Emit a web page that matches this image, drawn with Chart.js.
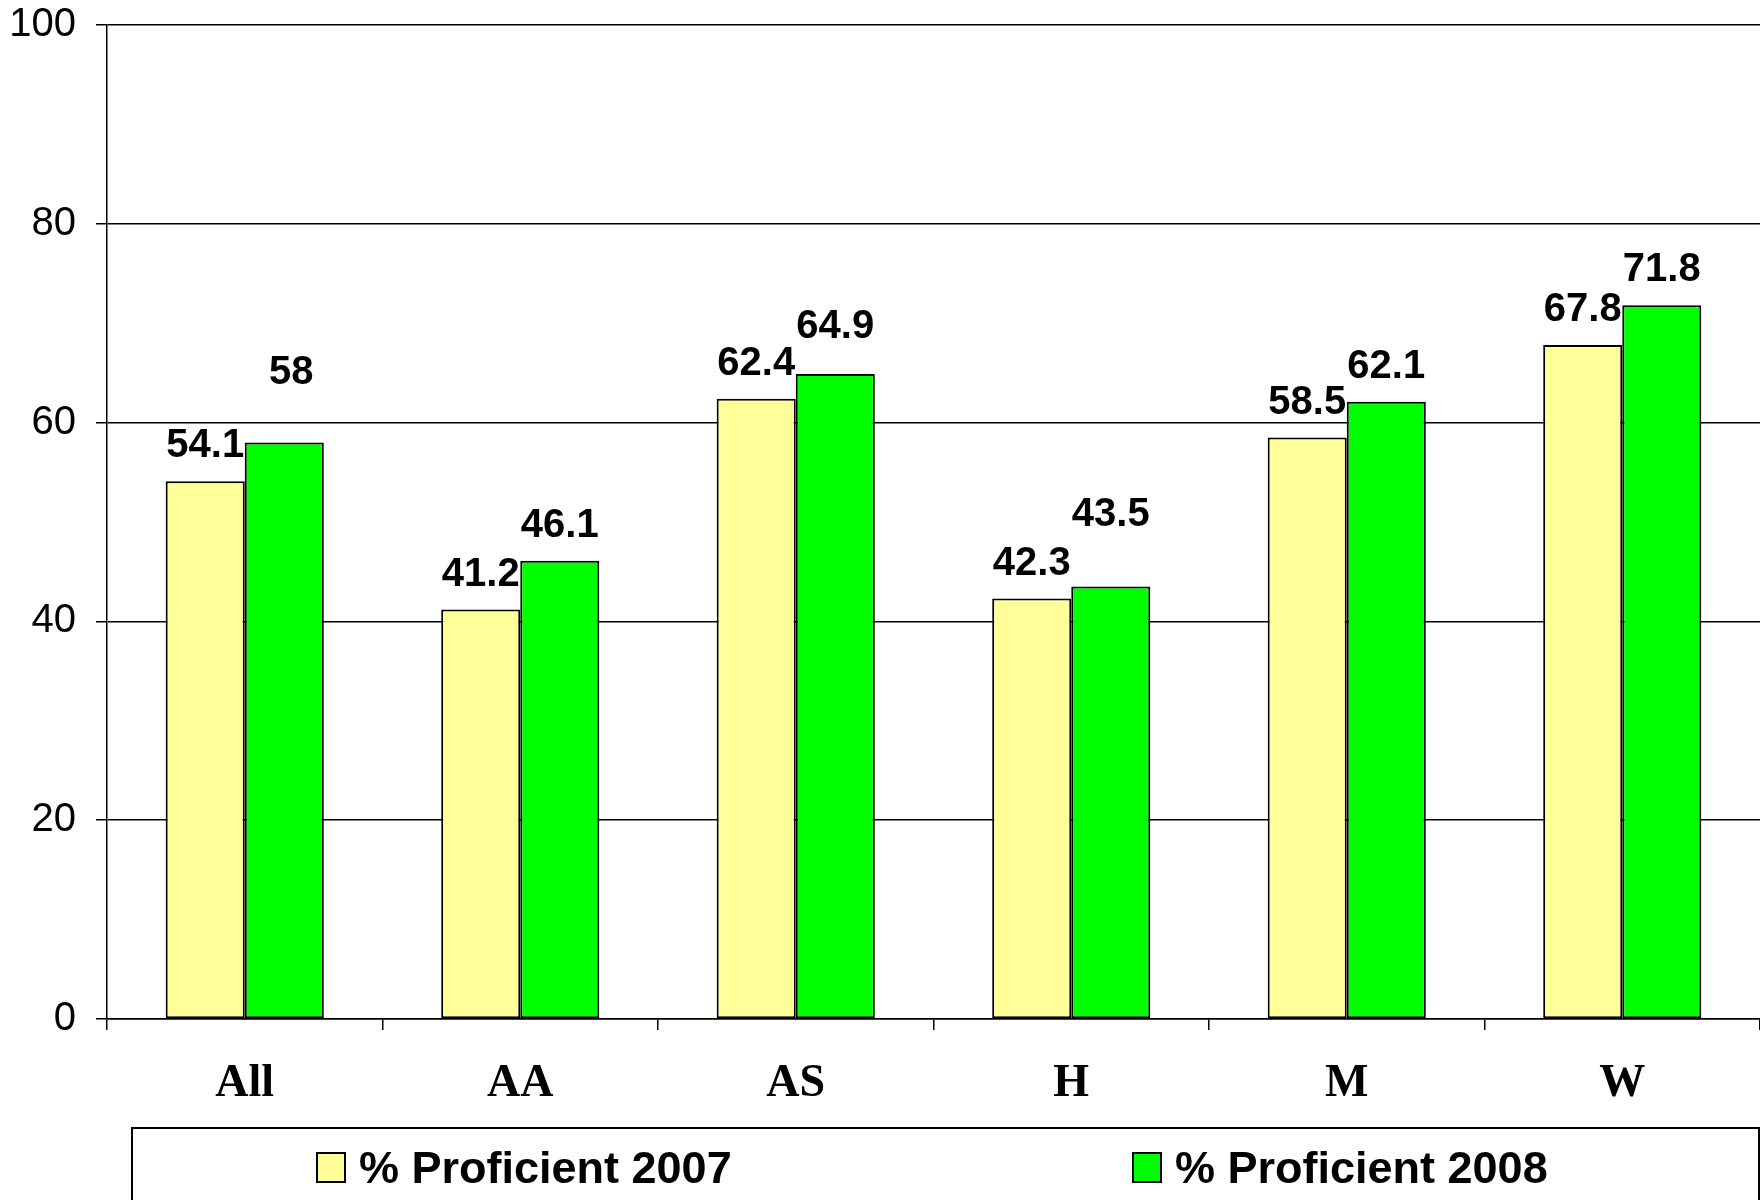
<!DOCTYPE html>
<html>
<head>
<meta charset="utf-8">
<script src="https://cdn.jsdelivr.net/npm/chart.js@4/dist/chart.umd.min.js"></script>
<style>
  html, body { margin: 0; padding: 0; background: #fff; }
  #wrap { width: 1760px; height: 1200px; }
</style>
</head>
<body>
<div id="wrap"><canvas id="chart" width="1760" height="1200"></canvas></div>
<script>
// data
const categories = ['All', 'AA', 'AS', 'H', 'M', 'W'];
const proficient2007 = [54.1, 41.2, 62.4, 42.3, 58.5, 67.8];
const proficient2008 = [58, 46.1, 64.9, 43.5, 62.1, 71.8];
const seriesNames = ['% Proficient 2007', '% Proficient 2008'];
const yTicks = [0, 20, 40, 60, 80, 100];

// extra lift (px) for a few labels that sit higher in the original
const labelLift = [
  [0, 0, 0, 0, 0, 0],
  [35, 0, 12, 37, 0, 0]
];
const labelShift = [
  [0, 0, 0, 0, 0, 0],
  [7, 0, 0, 0, 0, 0]
];

const colors = ['#FFFF99', '#00FF00'];

// value labels above the bars
const valueLabels = {
  id: 'valueLabels',
  afterDatasetsDraw(chart) {
    const ctx = chart.ctx;
    ctx.save();
    ctx.font = 'bold 40px "Liberation Sans", Arial, sans-serif';
    ctx.fillStyle = '#000';
    ctx.textAlign = 'center';
    ctx.textBaseline = 'middle';
    chart.data.datasets.forEach((ds, i) => {
      chart.getDatasetMeta(i).data.forEach((bar, j) => {
        ctx.fillText(String(ds.data[j]), bar.x + labelShift[i][j], bar.y - 35 - labelLift[i][j]);
      });
    });
    ctx.restore();
  }
};

// boxed legend like the original
const boxLegend = {
  id: 'boxLegend',
  afterDraw(chart) {
    const ctx = chart.ctx;
    ctx.save();
    ctx.strokeStyle = '#000';
    ctx.lineWidth = 2;
    ctx.strokeRect(132, 1128, 1627, 120);
    ctx.font = 'bold 45px "Liberation Sans", Arial, sans-serif';
    ctx.textBaseline = 'middle';
    ctx.textAlign = 'left';
    const starts = [317, 1133];
    chart.data.datasets.forEach((ds, i) => {
      ctx.fillStyle = ds.backgroundColor;
      ctx.fillRect(starts[i], 1153, 28, 29);
      ctx.lineWidth = 2;
      ctx.strokeRect(starts[i], 1153, 28, 29);
      ctx.fillStyle = '#000';
      ctx.fillText(ds.label, starts[i] + 42, 1171);
    });
    ctx.restore();
  }
};

const config = {
  type: 'bar',
  data: {
    labels: categories,
    datasets: [{
      label: seriesNames[0],
      data: proficient2007,
      backgroundColor: colors[0],
      borderColor: '#000',
      borderWidth: 2,
      borderSkipped: false
    }, {
      label: seriesNames[1],
      data: proficient2008,
      backgroundColor: colors[1],
      borderColor: '#000',
      borderWidth: 2,
      borderSkipped: false
    }]
  },
  options: {
    responsive: false,
    animation: false,
    categoryPercentage: 0.574,
    barPercentage: 1.0,
    layout: { padding: { top: 25, right: 0, bottom: 81, left: 0 } },
    plugins: {
      legend: { display: false },
      tooltip: { enabled: false }
    },
    scales: {
      x: {
        offset: true,
        grid: { drawOnChartArea: false, drawTicks: true, tickLength: 11, color: '#000', lineWidth: 1.5, offset: true },
        border: { color: '#000', width: 1.5 },
        ticks: {
          color: '#000',
          padding: 27,
          font: { family: '"Liberation Serif", "Times New Roman", serif', size: 46, weight: 'bold' }
        },
        afterFit(scale) {
          scale.height = 100;
          scale.paddingLeft = 0;
          scale.paddingRight = 0;
        }
      },
      y: {
        min: 0,
        max: 100,
        afterBuildTicks(scale) { scale.ticks = yTicks.map(v => ({ value: v })); },
        grid: { color: '#000', lineWidth: 1.5, tickLength: 11 },
        border: { color: '#000', width: 1.5 },
        ticks: {
          color: '#000',
          padding: 20,
          font: { family: '"Liberation Sans", Arial, sans-serif', size: 40 }
        },
        afterFit(scale) {
          scale.width = 107;
          scale.paddingTop = 0;
          scale.paddingBottom = 0;
        }
      }
    }
  },
  plugins: [valueLabels, boxLegend]
};

const chart = new Chart(document.getElementById('chart'), config);
</script>
</body>
</html>
